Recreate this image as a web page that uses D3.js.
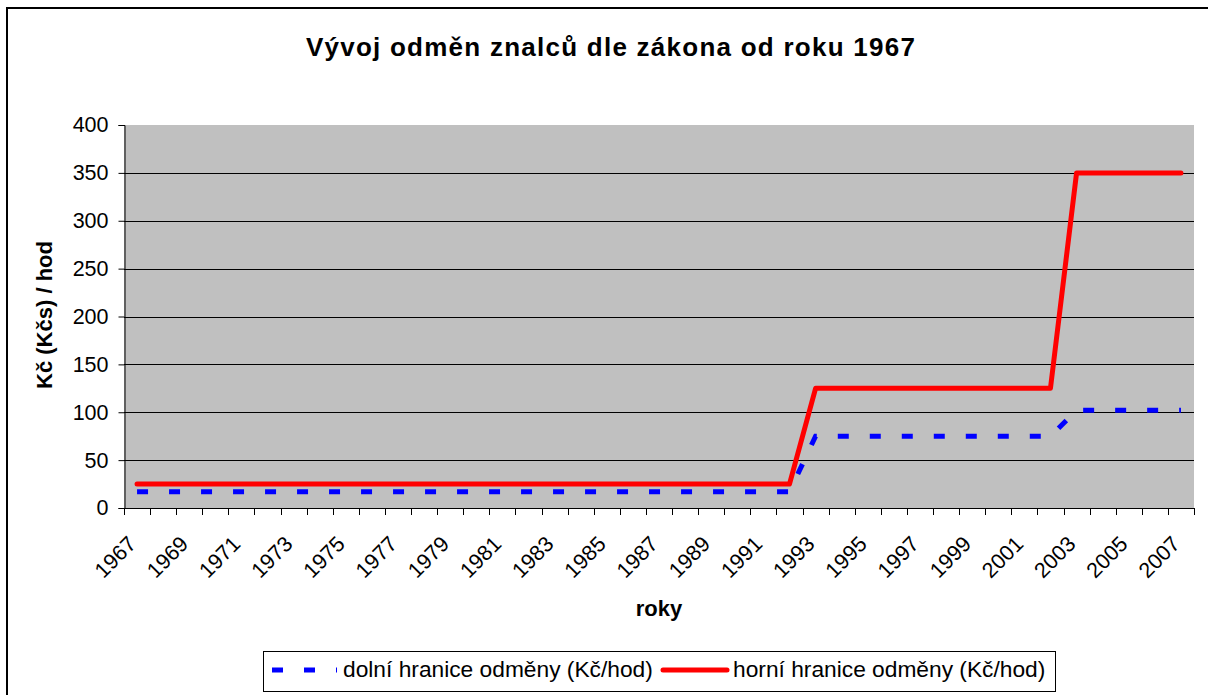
<!DOCTYPE html>
<html>
<head>
<meta charset="utf-8">
<script src="https://cdn.jsdelivr.net/npm/d3@7"></script>
<style>
  html, body { margin: 0; padding: 0; background: #fff; }
  svg { display: block; font-family: "Liberation Sans", Arial, sans-serif; }
</style>
</head>
<body>
<svg id="chart" width="1208" height="695"></svg>
<script>
const years = [1967,1968,1969,1970,1971,1972,1973,1974,1975,1976,1977,1978,1979,1980,1981,1982,1983,1984,1985,1986,1987,1988,1989,1990,1991,1992,1993,1994,1995,1996,1997,1998,1999,2000,2001,2002,2003,2004,2005,2006,2007];
const lowerValues = [17,17,17,17,17,17,17,17,17,17,17,17,17,17,17,17,17,17,17,17,17,17,17,17,17,17,75,75,75,75,75,75,75,75,75,75,102,102,102,102,102];
const upperValues = [25,25,25,25,25,25,25,25,25,25,25,25,25,25,25,25,25,25,25,25,25,25,25,25,25,25,125,125,125,125,125,125,125,125,125,125,350,350,350,350,350];
const xTickLabels = [1967,1969,1971,1973,1975,1977,1979,1981,1983,1985,1987,1989,1991,1993,1995,1997,1999,2001,2003,2005,2007];
const yTicks = [0,50,100,150,200,250,300,350,400];
const seriesNames = ["dolní hranice odměny (Kč/hod)", "horní hranice odměny (Kč/hod)"];
const titleText = "Vývoj odměn znalců dle zákona od roku 1967";
const xTitle = "roky";
const yTitle = "Kč (Kčs) / hod";

const svg = d3.select("#chart");
const plot = {left: 124, right: 1194, top: 125, bottom: 508};

// outer frame
svg.append("rect").attr("x", 7).attr("y", 8).attr("width", 1215).attr("height", 700)
  .attr("fill", "#fff").attr("stroke", "#000").attr("stroke-width", 2);

const x = d3.scaleBand().domain(years).range([plot.left, plot.right]).padding(0);
const y = d3.scaleLinear().domain([0, 400]).range([plot.bottom, plot.top]);
const cx = d => x(d) + x.bandwidth() / 2;

// plot area
svg.append("rect").attr("x", plot.left).attr("y", plot.top)
  .attr("width", plot.right - plot.left).attr("height", plot.bottom - plot.top)
  .attr("fill", "#c0c0c0");

// gridlines
svg.append("g").selectAll("line").data(yTicks.filter(t => t > 0 && t < 400)).join("line")
  .attr("x1", plot.left).attr("x2", plot.right)
  .attr("y1", d => Math.round(y(d)) + 0.5).attr("y2", d => Math.round(y(d)) + 0.5)
  .attr("stroke", "#000").attr("stroke-width", 1);

// y axis
const yAxis = svg.append("g").attr("transform", `translate(${plot.left + 0.5},0)`)
  .call(d3.axisLeft(y).tickValues(yTicks).tickSize(6).tickPadding(10).tickFormat(d3.format("d")));
yAxis.select(".domain").attr("stroke", "#000");
yAxis.selectAll(".tick line").attr("stroke", "#000");
yAxis.selectAll("text").attr("font-size", 21.5).attr("fill", "#000")
  .attr("font-family", "'Liberation Sans', Arial, sans-serif");

// x axis line and ticks at band boundaries
const boundaries = years.map(d => x(d)).concat([x(years[years.length - 1]) + x.bandwidth()]);
const xg = svg.append("g");
xg.append("line").attr("x1", plot.left).attr("x2", plot.right)
  .attr("y1", plot.bottom + 0.5).attr("y2", plot.bottom + 0.5).attr("stroke", "#000");
xg.selectAll("line.tick").data(boundaries).join("line").attr("class", "tick")
  .attr("x1", d => Math.round(d) + 0.5).attr("x2", d => Math.round(d) + 0.5)
  .attr("y1", plot.bottom).attr("y2", plot.bottom + 7).attr("stroke", "#000");
xg.selectAll("text").data(xTickLabels).join("text")
  .attr("transform", d => `translate(${cx(d) - 5},${plot.bottom + 32}) rotate(-45)`)
  .attr("text-anchor", "end").attr("dy", "0.35em")
  .attr("font-size", 21.5).attr("fill", "#000").text(d => d);

// lines
const line = d3.line().x((d, i) => cx(years[i])).y(d => y(d));
svg.append("path").datum(lowerValues).attr("d", line)
  .attr("fill", "none").attr("stroke", "#0000ff").attr("stroke-width", 5)
  .attr("stroke-dasharray", "11,21");
svg.append("path").datum(upperValues).attr("d", line)
  .attr("fill", "none").attr("stroke", "#ff0000").attr("stroke-width", 5)
  .attr("stroke-linejoin", "round").attr("stroke-linecap", "round");

// titles
svg.append("text").attr("x", 611).attr("y", 56).attr("text-anchor", "middle")
  .attr("font-size", 26).attr("font-weight", "bold").attr("letter-spacing", 1.25).text(titleText);
svg.append("text").attr("x", (plot.left + plot.right) / 2).attr("y", 616).attr("text-anchor", "middle")
  .attr("font-size", 22).attr("font-weight", "bold").text(xTitle);
svg.append("text").attr("transform", `translate(52,315) rotate(-90)`)
  .attr("text-anchor", "middle").attr("font-size", 22).attr("font-weight", "bold").text(yTitle);

// legend
const lg = svg.append("g");
lg.append("rect").attr("x", 263.5).attr("y", 651.5).attr("width", 792).attr("height", 40)
  .attr("fill", "#fff").attr("stroke", "#000").attr("stroke-width", 1);
lg.append("line").attr("x1", 272).attr("x2", 337).attr("y1", 670).attr("y2", 670)
  .attr("stroke", "#0000ff").attr("stroke-width", 5).attr("stroke-dasharray", "11,21");
lg.append("text").attr("x", 343).attr("y", 669).attr("dy", "0.35em")
  .attr("font-size", 22.75).text(seriesNames[0]);
lg.append("line").attr("x1", 663).attr("x2", 727).attr("y1", 670).attr("y2", 670)
  .attr("stroke", "#ff0000").attr("stroke-width", 5).attr("stroke-linecap", "round");
lg.append("text").attr("x", 733).attr("y", 669).attr("dy", "0.35em")
  .attr("font-size", 22.75).text(seriesNames[1]);
</script>
</body>
</html>
